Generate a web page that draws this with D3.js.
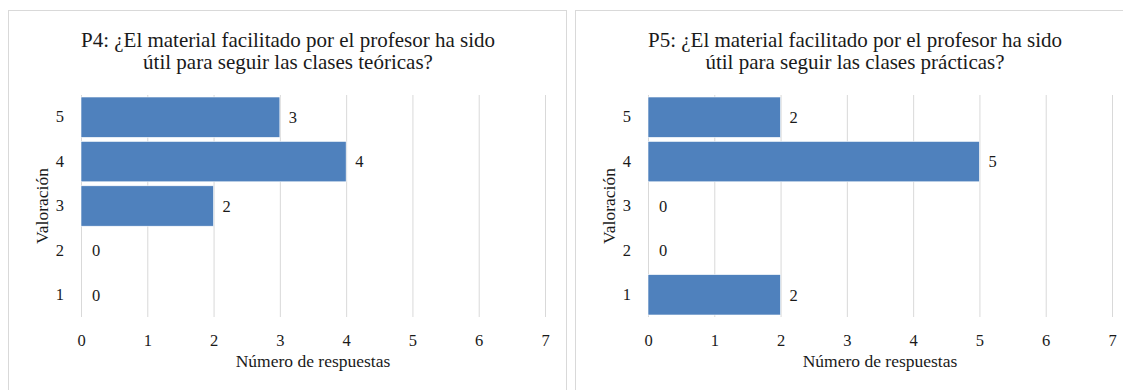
<!DOCTYPE html>
<html><head><meta charset="utf-8">
<script src="https://cdn.jsdelivr.net/npm/d3@7"></script>
<style>
html,body{margin:0;padding:0;background:#fff;}
svg text{font-family:"Times New Roman","Liberation Serif",Times,Tinos,"DejaVu Serif",serif;}
</style></head>
<body>
<svg id="chart" width="1123" height="390"></svg>
<script>
const categories = ["1", "2", "3", "4", "5"];
const p4Values = [0, 0, 2, 4, 3];
const p5Values = [2, 0, 0, 5, 2];
const xTicks = [0, 1, 2, 3, 4, 5, 6, 7];
const p4Title = ["P4: ¿El material facilitado por el profesor ha sido", "útil para seguir las clases teóricas?"];
const p5Title = ["P5: ¿El material facilitado por el profesor ha sido", "útil para seguir las clases prácticas?"];
const xAxisTitle = "Número de respuestas";
const yAxisTitle = "Valoración";

const svg = d3.select("#chart");
const textColor = "#1a1a1a";
const gridColor = "#d9d9d9";
const barColor = "#4f81bd";

function drawPanel(px, values, titleLines) {
  const pw = 558, py = 10;
  const g = svg.append("g").attr("transform", `translate(${px},${py})`);
  g.append("rect").attr("x", 0.5).attr("y", 0.5).attr("width", pw).attr("height", 400)
    .attr("fill", "#fff").attr("stroke", gridColor).attr("stroke-width", 1);

  const left = 73, right = 73 + 464, top = 85, bottom = 307;
  const x = d3.scaleLinear().domain([0, 7]).range([left, right]);
  const y = d3.scaleBand().domain(categories.slice().reverse()).range([top, bottom]).paddingInner(0.09).paddingOuter(0.045);

  // title
  const t = g.append("text").attr("x", 280).attr("y", 36.5).attr("text-anchor", "middle")
    .attr("font-size", 21).attr("fill", textColor);
  titleLines.forEach((l, i) => t.append("tspan").attr("x", 280).attr("dy", i === 0 ? 0 : 22.6).text(l));

  // grid + x axis
  const xa = g.append("g").attr("transform", `translate(0,${bottom})`)
    .call(d3.axisBottom(x).tickValues(xTicks).tickSize(-(bottom - top)).tickPadding(17).tickFormat(d3.format("d")));
  xa.attr("font-family", null);
  xa.select(".domain").remove();
  xa.selectAll(".tick line").attr("stroke", gridColor);
  xa.selectAll(".tick text").attr("font-size", 16.5).attr("fill", textColor);

  // y axis labels
  const ya = g.append("g").attr("transform", `translate(${left},0)`)
    .call(d3.axisLeft(y).tickSize(0).tickPadding(17));
  ya.attr("font-family", null);
  ya.select(".domain").remove();
  ya.selectAll(".tick text").attr("font-size", 16.5).attr("fill", textColor);

  // bars
  const data = categories.map((c, i) => ({ c, v: values[i] }));
  g.selectAll("rect.bar").data(data).enter().append("rect").attr("class", "bar")
    .attr("x", x(0)).attr("y", d => y(d.c)).attr("height", y.bandwidth())
    .attr("width", d => x(d.v) - x(0)).attr("fill", barColor)
    .attr("stroke", "#fff").attr("stroke-width", d => d.v > 0 ? 0.6 : 0);

  g.selectAll("text.lbl").data(data).enter().append("text").attr("class", "lbl")
    .attr("x", d => x(d.v) + (d.v > 0 ? 9 : 11)).attr("y", d => y(d.c) + y.bandwidth() / 2)
    .attr("dy", "0.35em").attr("font-size", 16.5).attr("fill", textColor).text(d => d.v);

  // axis titles
  g.append("text").attr("x", (left + right) / 2).attr("y", 357).attr("text-anchor", "middle")
    .attr("font-size", 17.5).attr("fill", textColor).text(xAxisTitle);
  g.append("text").attr("transform", `translate(${34},${(top + bottom) / 2}) rotate(-90)`)
    .attr("text-anchor", "middle").attr("dy", "0.35em")
    .attr("font-size", 17.5).attr("fill", textColor).text(yAxisTitle);
}

drawPanel(8, p4Values, p4Title);
drawPanel(575, p5Values, p5Title);
</script>
</body></html>
